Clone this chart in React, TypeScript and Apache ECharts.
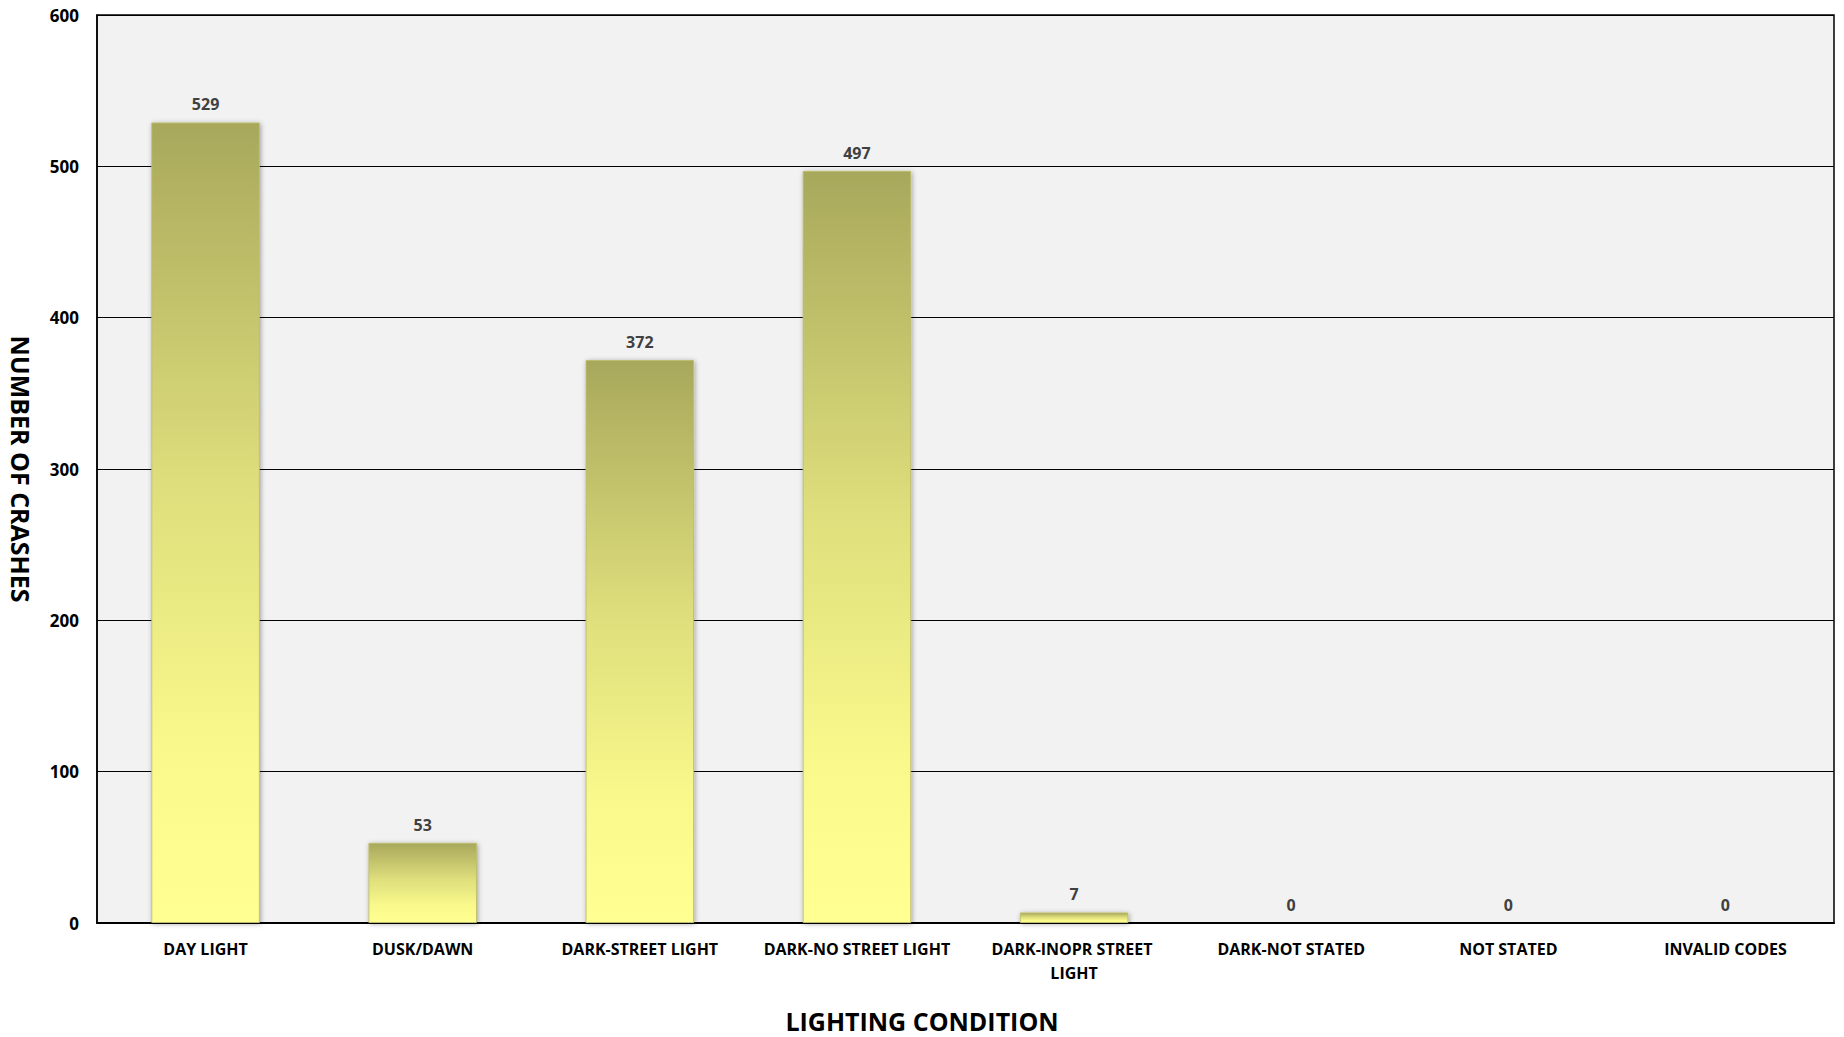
import React, { useEffect, useRef } from "react";
import * as echarts from "echarts";

const categories = [
  "DAY LIGHT",
  "DUSK/DAWN",
  "DARK-STREET LIGHT",
  "DARK-NO STREET LIGHT",
  "DARK-INOPR STREET LIGHT",
  "DARK-NOT STATED",
  "NOT STATED",
  "INVALID CODES",
];
const crashes = [529, 53, 372, 497, 7, 0, 0, 0];
const yTicks = { min: 0, max: 600, interval: 100 };
const xTitle = "LIGHTING CONDITION";
const yTitle = "NUMBER OF CRASHES";

const FONT = "'Open Sans', sans-serif";

export default function App() {
  const ref = useRef<HTMLDivElement>(null);
  useEffect(() => {
    if (!ref.current) return;
    const chart = echarts.init(ref.current, undefined, { renderer: "svg" });
    chart.setOption({
      animation: false,
      backgroundColor: "#ffffff",
      title: {
        text: xTitle,
        left: "center",
        top: 1008,
        padding: 0,
        textStyle: {
          fontFamily: FONT,
          fontWeight: "bold",
          fontSize: 25,
          color: "#000",
        },
      },
      grid: {
        left: 97,
        right: 10,
        top: 15,
        bottom: 114,
        show: true,
        backgroundColor: "#f2f2f2",
        borderColor: "#000000",
        borderWidth: 1.5,
      },
      xAxis: {
        type: "category",
        data: categories,
        axisLine: { show: true, lineStyle: { color: "#000", width: 2 } },
        axisTick: { show: false },
        axisLabel: {
          interval: 0,
          margin: 14,
          fontFamily: FONT,
          fontWeight: "bold",
          fontSize: 16,
          color: "#000",
          width: 200,
          overflow: "break",
          lineHeight: 24,
        },
      },
      yAxis: {
        type: "value",
        min: yTicks.min,
        max: yTicks.max,
        interval: yTicks.interval,
        name: yTitle,
        nameLocation: "middle",
        nameGap: 64,
        nameRotate: -90,
        nameTextStyle: {
          fontFamily: FONT,
          fontWeight: "bold",
          fontSize: 25,
          color: "#000",
        },
        axisLine: { show: true, lineStyle: { color: "#000", width: 1.5 } },
        axisTick: { show: false },
        splitLine: { show: true, lineStyle: { color: "#000", width: 1.2 } },
        axisLabel: {
          margin: 18,
          fontFamily: FONT,
          fontWeight: "bold",
          fontSize: 17,
          color: "#000",
        },
      },
      series: [
        {
          type: "bar",
          data: crashes,
          barWidth: "50%",
          itemStyle: {
            color: new echarts.graphic.LinearGradient(0, 0, 0, 1, [
              { offset: 0, color: "#a8a85c" },
              { offset: 0.45, color: "#dede7c" },
              { offset: 0.8, color: "#fafa8c" },
              { offset: 1, color: "#ffff92" },
            ]),
            borderColor: "rgba(190,190,110,0.9)",
            borderWidth: 1,
            shadowColor: "rgba(0,0,0,0.35)",
            shadowBlur: 5,
            shadowOffsetX: 1,
            shadowOffsetY: 1,
          },
          label: {
            show: true,
            position: "top",
            distance: 10,
            fontFamily: FONT,
            fontWeight: "bold",
            fontSize: 16,
            color: "#404040",
          },
        },
      ],
    });
    return () => chart.dispose();
  }, []);
  return (
    <div
      ref={ref}
      style={{ position: "fixed", left: 0, top: 0, width: 1844, height: 1037 }}
    />
  );
}
